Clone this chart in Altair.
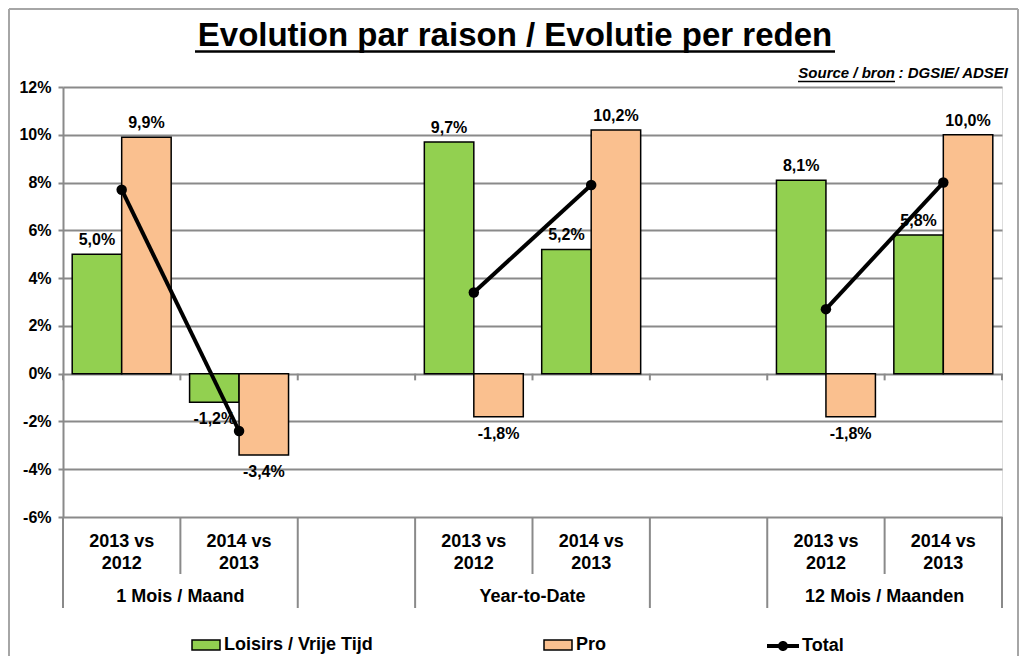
import altair as alt
import pandas as pd

# ---------------- data ----------------
groups = ["1 Mois / Maand", "Year-to-Date", "12 Mois / Maanden"]
periods = ["2013 vs\n2012", "2014 vs\n2013"]
series = ["Loisirs / Vrije Tijd", "Pro"]
loisirs = [5.0, -1.2, 9.7, 5.2, 8.1, 5.8]
pro = [9.9, -3.4, -1.8, 10.2, -1.8, 10.0]
total = [7.7, -2.4, 3.4, 7.9, 2.7, 8.0]
y_ticks = [-6, -4, -2, 0, 2, 4, 6, 8, 10, 12]
title_text = "Evolution par raison / Evolutie per reden"
source_a = "Source / bron"
source_b = ": DGSIE/ ADSEI"

FONT = "Liberation Sans"
GRID = "#8a8a8a"
GREEN = "#92D050"
ORANGE = "#FAC08F"

# slots (with an empty slot between groups)
slots = []
rows = []
i = 0
for gi, g in enumerate(groups):
    for pi, p in enumerate(periods):
        s = f"{g}|{p}"
        slots.append(s)
        rows.append({"slot": s, "group": g, "period": p, "pi": pi,
                     "Loisirs / Vrije Tijd": loisirs[i], "Pro": pro[i],
                     "total": total[i], "name": "Total"})
        i += 1
    if gi < len(groups) - 1:
        slots.append(f"gap{gi}")
cat = pd.DataFrame(rows)
bars = cat.melt(id_vars=["slot", "group"], value_vars=series,
                var_name="series", value_name="value")

grp = cat[cat["pi"] == 1][["slot", "group"]]
second = set(cat[cat["pi"] == 1]["slot"])
sep = pd.DataFrame({"slot": slots})
sep["kind"] = ["short" if s in second else "long" for s in slots]
last = pd.DataFrame({"slot": [slots[-1]]})

W, H = 939, 430
xscale = alt.Scale(domain=slots, paddingInner=0, paddingOuter=0)
yscale = alt.Scale(domain=[-6, 12], nice=False, zero=False)


def X(**kw):
    return alt.X("slot:N", scale=xscale, axis=None, **kw)


xoff = alt.XOffset("series:N", scale=alt.Scale(domain=series, paddingInner=0, paddingOuter=0.186))

LEG_Y = 543

bar_legend = alt.Legend(
    title=None, orient="none", legendX=128, legendY=LEG_Y, direction="horizontal",
    symbolType="M-1,-0.357H1V0.357H-1Z", symbolSize=784, symbolStrokeColor="black",
    symbolStrokeWidth=1.5, labelOffset=3, columnPadding=168,
    labelFont=FONT, labelFontSize=18, labelFontWeight="bold", labelColor="black", labelLimit=400)

bar_layer = alt.Chart(bars).mark_bar(stroke="black", strokeWidth=1.5).encode(
    x=X(), xOffset=xoff,
    y=alt.Y("value:Q", scale=yscale, title=None,
            axis=alt.Axis(values=y_ticks, labelExpr="datum.value + '%'", grid=True,
                          gridColor=GRID, gridWidth=2, domainColor=GRID, domainWidth=2,
                          tickColor=GRID, tickWidth=2, tickSize=5, labelPadding=7,
                          labelFont=FONT, labelFontSize=16, labelFontWeight="bold",
                          labelColor="black")),
    color=alt.Color("series:N", scale=alt.Scale(domain=series, range=[GREEN, ORANGE]),
                    legend=bar_legend),
)

lab_expr = "(datum.value < 0 ? '-' : '') + replace(format(abs(datum.value), '.1f'), '.', ',') + '%'"
lab_pos = alt.Chart(bars).transform_filter("datum.value >= 0").transform_calculate(
    lab=lab_expr).mark_text(font=FONT, fontSize=16, fontWeight="bold", color="black",
                            baseline="alphabetic", dy=-9).encode(
    x=X(), xOffset=xoff, y=alt.Y("value:Q", scale=yscale), text="lab:N")
lab_neg = alt.Chart(bars).transform_filter("datum.value < 0").transform_calculate(
    lab=lab_expr).mark_text(font=FONT, fontSize=16, fontWeight="bold", color="black",
                            baseline="alphabetic", dy=22).encode(
    x=X(), xOffset=xoff, y=alt.Y("value:Q", scale=yscale), text="lab:N")

line = alt.Chart(cat).mark_line(color="black", strokeWidth=4).encode(
    x=X(), y=alt.Y("total:Q", scale=yscale), detail="group:N")
pts = alt.Chart(cat).mark_point(filled=True, size=110, opacity=1).encode(
    x=X(), y=alt.Y("total:Q", scale=yscale),
    fill=alt.Fill("name:N", scale=alt.Scale(domain=["Total"], range=["black"]),
                  legend=alt.Legend(
                      title=None, orient="none", legendX=704, legendY=LEG_Y,
                      symbolType="M-1,-0.125H1V0.125H-1Z M0.3125,0A0.3125,0.3125,0,1,1,-0.3125,0A0.3125,0.3125,0,1,1,0.3125,0Z",
                      symbolSize=1024, symbolStrokeWidth=0, labelOffset=3,
                      labelFont=FONT, labelFontSize=18, labelFontWeight="bold",
                      labelColor="black")))

# category axis decorations
sep_long = alt.Chart(sep).transform_filter("datum.kind == 'long'").mark_rule(
    color=GRID, strokeWidth=2).encode(x=X(bandPosition=0), y=alt.value(H), y2=alt.value(521))
sep_short = alt.Chart(sep).transform_filter("datum.kind == 'short'").mark_rule(
    color=GRID, strokeWidth=2).encode(x=X(bandPosition=0), y=alt.value(H), y2=alt.value(487))
sep_last = alt.Chart(last).mark_rule(color=GRID, strokeWidth=2).encode(
    x=X(bandPosition=1), y=alt.value(H), y2=alt.value(521))
zt = alt.Chart(sep).mark_rule(color=GRID, strokeWidth=2).encode(
    x=X(bandPosition=0), y=alt.Y(datum=0, scale=yscale), y2=alt.Y2(datum=-0.28))
zt_last = alt.Chart(last).mark_rule(color=GRID, strokeWidth=2).encode(
    x=X(bandPosition=1), y=alt.Y(datum=0, scale=yscale), y2=alt.Y2(datum=-0.28))

sub_lab = alt.Chart(cat).mark_text(font=FONT, fontSize=18, fontWeight="bold", color="black",
                                   lineBreak="\n", lineHeight=22, baseline="middle").encode(
    x=X(), y=alt.value(455), text="period:N")
grp_lab = alt.Chart(grp).mark_text(font=FONT, fontSize=18, fontWeight="bold", color="black",
                                   baseline="middle").encode(
    x=X(bandPosition=0), y=alt.value(510), text="group:N")

# titles
one = pd.DataFrame({"t": [title_text], "a": [source_a], "b": [source_b]})
title = alt.Chart(one).mark_text(font=FONT, fontSize=33, fontWeight="bold", color="black",
                                 align="center", baseline="alphabetic").encode(
    x=alt.value(452), y=alt.value(-41), text="t:N")
title_ul = alt.Chart(one).mark_rule(color="black", strokeWidth=2.5).encode(
    x=alt.value(132), x2=alt.value(772), y=alt.value(-35.5))
src_b = alt.Chart(one).mark_text(font=FONT, fontSize=15, fontWeight="bold", fontStyle="italic",
                                 color="black", align="right", baseline="alphabetic").encode(
    x=alt.value(945), y=alt.value(-9), text="b:N")
src_a = alt.Chart(one).mark_text(font=FONT, fontSize=15, fontWeight="bold", fontStyle="italic",
                                 color="black", align="right", baseline="alphabetic").encode(
    x=alt.value(832), y=alt.value(-9), text="a:N")
src_ul = alt.Chart(one).mark_rule(color="black", strokeWidth=1.5).encode(
    x=alt.value(735), x2=alt.value(832), y=alt.value(-5.5))

# outer frame
frame_l = alt.Chart(one).mark_rule(color="#a6a6a6", strokeWidth=2).encode(
    x=alt.value(-54), y=alt.value(-78), y2=alt.value(600))
frame_t = alt.Chart(one).mark_rule(color="#a6a6a6", strokeWidth=2).encode(
    x=alt.value(-54), x2=alt.value(955), y=alt.value(-78))
frame_r = alt.Chart(one).mark_rule(color="#a6a6a6", strokeWidth=2).encode(
    x=alt.value(955), y=alt.value(-78), y2=alt.value(600))

chart = alt.layer(
    frame_l, frame_t, frame_r,
    bar_layer, zt, zt_last, lab_pos, lab_neg, line, pts,
    sep_long, sep_short, sep_last, sub_lab, grp_lab,
    title, title_ul, src_a, src_b, src_ul,
).resolve_scale(color="independent", fill="independent").properties(
    width=W, height=H,
    autosize=alt.AutoSizeParams(type="none"),
    padding={"left": 55, "top": 79, "right": 17, "bottom": 139},
    background="white",
).configure_view(strokeWidth=0).configure(font=FONT)

chart.save("out.html", embed_options={"renderer": "svg", "actions": False})
